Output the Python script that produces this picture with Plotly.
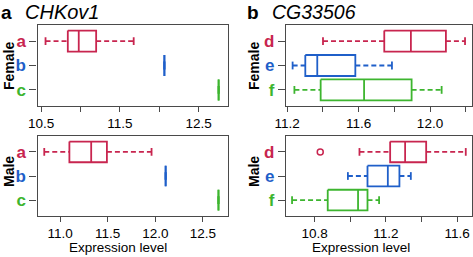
import plotly.graph_objects as go

W, H = 473, 257
RED, BLUE, GREEN = "#c8254f", "#1f5fc9", "#3db52f"
COLORS = [RED, BLUE, GREEN]

cats_a = ["a", "b", "c"]
cats_b = ["d", "e", "f"]

a_female_low = [10.555, 12.065, 12.754]
a_female_q1 = [10.838, 12.065, 12.754]
a_female_med = [10.977, 12.065, 12.754]
a_female_q3 = [11.198, 12.065, 12.754]
a_female_high = [11.675, 12.065, 12.754]

a_male_low = [10.834, 12.109, 12.664]
a_male_q1 = [11.098, 12.109, 12.664]
a_male_med = [11.327, 12.109, 12.664]
a_male_q3 = [11.492, 12.109, 12.664]
a_male_high = [11.961, 12.109, 12.664]

b_female_low = [11.401, 11.231, 11.241]
b_female_q1 = [11.744, 11.302, 11.388]
b_female_med = [11.893, 11.369, 11.631]
b_female_q3 = [12.089, 11.582, 11.897]
b_female_high = [12.196, 11.787, 12.065]

b_male_low = [11.052, 10.987, 10.674]
b_male_q1 = [11.224, 11.097, 10.874]
b_male_med = [11.308, 11.211, 11.044]
b_male_q3 = [11.426, 11.276, 11.097]
b_male_high = [11.648, 11.340, 11.162]
b_male_outlier_cat = [0]
b_male_outlier_val = [10.832]

fig = go.Figure()

BOX_H = 0.43
CAP_H = 0.16
LW = 1.8


def add_boxes(xa, ya, low, q1, med, q3, high):
    for i in range(len(low)):
        c = COLORS[i]
        common = dict(xaxis=xa, yaxis=ya, mode="lines", showlegend=False, hoverinfo="skip")
        fig.add_trace(go.Scatter(
            x=[low[i], q1[i], None, q3[i], high[i]],
            y=[i, i, None, i, i],
            line=dict(color=c, width=LW, dash="5px,3px"), **common))
        fig.add_trace(go.Scatter(
            x=[low[i], low[i], None, high[i], high[i]],
            y=[i - CAP_H, i + CAP_H, None, i - CAP_H, i + CAP_H],
            line=dict(color=c, width=LW), **common))
        fig.add_trace(go.Scatter(
            x=[q1[i], q3[i], q3[i], q1[i], q1[i]],
            y=[i - BOX_H, i - BOX_H, i + BOX_H, i + BOX_H, i - BOX_H],
            line=dict(color=c, width=LW), **common))
        fig.add_trace(go.Scatter(
            x=[med[i], med[i]], y=[i - BOX_H, i + BOX_H],
            line=dict(color=c, width=LW), **common))


add_boxes("x", "y", a_female_low, a_female_q1, a_female_med, a_female_q3, a_female_high)
add_boxes("x2", "y2", a_male_low, a_male_q1, a_male_med, a_male_q3, a_male_high)
add_boxes("x3", "y3", b_female_low, b_female_q1, b_female_med, b_female_q3, b_female_high)
add_boxes("x4", "y4", b_male_low, b_male_q1, b_male_med, b_male_q3, b_male_high)
fig.add_trace(go.Scatter(
    x=b_male_outlier_val, y=b_male_outlier_cat, xaxis="x4", yaxis="y4",
    mode="markers", marker=dict(symbol="circle-open", size=6, color=RED, line=dict(width=1.5)),
    showlegend=False, hoverinfo="skip"))

FONT = "Liberation Sans, Arial, Helvetica, sans-serif"
AX = "#4a4a4a"


def px_x(p):
    return p / W


def px_y(p):
    return 1 - p / H


def colored(cats):
    return ["<b><span style='color:%s'>%s</span></b>" % (COLORS[i], c) for i, c in enumerate(cats)]


def xaxis(domain, anchor, rng, tickvals, ticktext):
    return dict(domain=domain, anchor=anchor, range=rng, tickvals=tickvals, ticktext=ticktext,
                ticks="outside", ticklen=5, tickwidth=1.2, tickcolor=AX,
                showline=True, linecolor=AX, linewidth=1.3, mirror=True,
                showgrid=False, zeroline=False, automargin=False,
                tickfont=dict(family=FONT, size=13.5, color="black"))


def yaxis(domain, anchor, cats):
    return dict(domain=domain, anchor=anchor, range=[2.66, -0.66], tickvals=[0, 1, 2],
                ticktext=colored(cats), ticks="outside", ticklen=7, tickwidth=1.2, tickcolor=AX,
                showline=True, linecolor=AX, linewidth=1.3, mirror=True,
                showgrid=False, zeroline=False, automargin=False,
                tickfont=dict(family=FONT, size=17))


top_dom = [px_y(106), px_y(25)]
bot_dom = [px_y(216), px_y(136)]
a_dom = [px_x(37.5), px_x(228)]
b_dom = [px_x(286), px_x(472)]

fig.update_layout(
    width=W, height=H, autosize=False, margin=dict(l=0, r=0, t=0, b=0, pad=0),
    paper_bgcolor="white", plot_bgcolor="white",
    font=dict(family=FONT, color="black"),
    xaxis=xaxis(a_dom, "y", [10.453, 12.873], [10.5, 11.0, 11.5, 12.0, 12.5],
                ["10.5", "", "11.5", "", "12.5"]),
    yaxis=yaxis(top_dom, "x", cats_a),
    xaxis2=xaxis(a_dom, "y2", [10.763, 12.764], [11.0, 11.5, 12.0, 12.5],
                 ["11.0", "11.5", "12.0", "12.5"]),
    yaxis2=yaxis(bot_dom, "x2", cats_a),
    xaxis3=xaxis(b_dom, "y3", [11.194, 12.235], [11.2, 11.4, 11.6, 11.8, 12.0, 12.2],
                 ["11.2", "", "11.6", "", "12.0", ""]),
    yaxis3=yaxis(top_dom, "x3", cats_b),
    xaxis4=xaxis(b_dom, "y4", [10.64, 11.683], [10.8, 11.0, 11.2, 11.4, 11.6],
                 ["10.8", "", "11.2", "", "11.6"]),
    yaxis4=yaxis(bot_dom, "x4", cats_b),
)


def ann(text, x, y, size, xanchor="center", angle=0):
    fig.add_annotation(text=text, x=px_x(x), y=px_y(y), xref="paper", yref="paper",
                       showarrow=False, xanchor=xanchor, yanchor="middle", textangle=angle,
                       borderpad=0, font=dict(family=FONT, size=size, color="black"))


ann("<b>a</b>", 0, 12, 19, xanchor="left")
ann("<i>CHKov1</i>", 24, 12, 20, xanchor="left")
ann("<b>b</b>", 246, 12, 19, xanchor="left")
ann("<i>CG33506</i>", 271, 12, 19.5, xanchor="left")
ann("<b>Female</b>", 9, 66, 14, angle=-90)
ann("<b>Male</b>", 9, 172, 14, angle=-90)
ann("<b>Female</b>", 254, 66, 14, angle=-90)
ann("<b>Male</b>", 254, 172, 14, angle=-90)
ann("Expression level", 118, 247, 13.5)
ann("Expression level", 361, 247, 13.5)

fig.write_html("out.html", config={"displayModeBar": False},
               post_script="document.body.style.margin='0';document.body.style.overflow='hidden';")
